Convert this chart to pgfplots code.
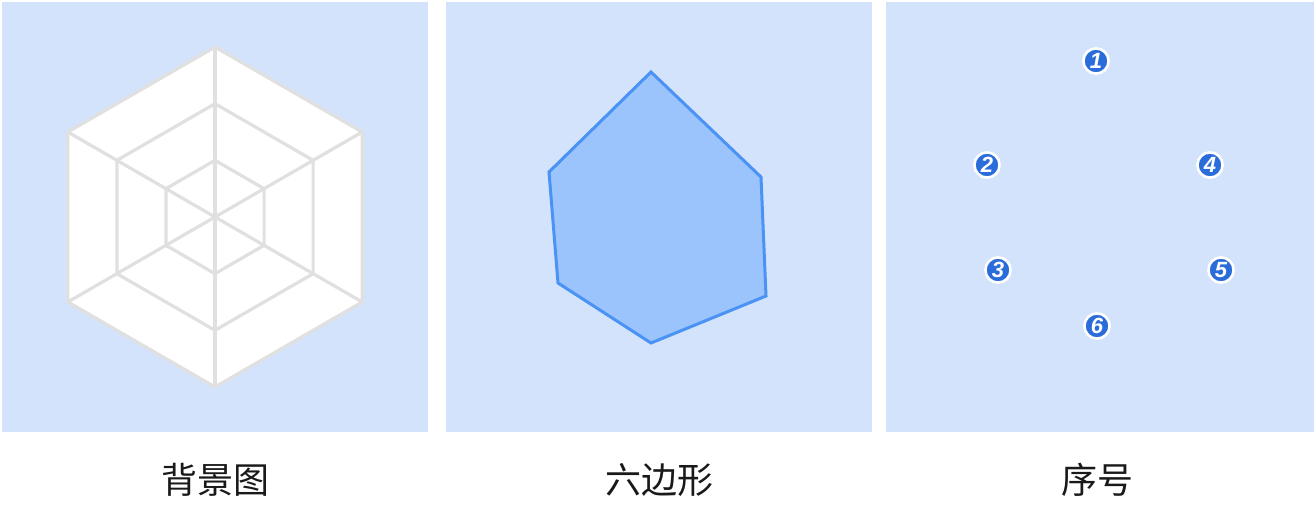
\documentclass[border=0pt]{standalone}
\usepackage{pgfplots}
\pgfplotsset{compat=1.18}
\usepackage{fontspec}
\newfontfamily\cjk{Noto Sans CJK SC}
\newfontfamily\numfont{Liberation Sans}
\definecolor{panelbg}{HTML}{D4E3FC}
\definecolor{gridgray}{HTML}{E0E0E0}
\definecolor{polyfill}{HTML}{9CC4FC}
\definecolor{polyline}{HTML}{4A93F5}
\definecolor{numblue}{HTML}{2A6DDA}
\begin{document}
\begin{tikzpicture}
\begin{axis}[
  x=0.5pt, y=0.5pt, y dir=reverse,
  xmin=0, xmax=1316, ymin=0, ymax=515,
  hide axis, clip=false, scale only axis,
]
% white page
\addplot[fill=white, draw=none] coordinates {(0,0) (1316,0) (1316,515) (0,515)} -- cycle;
% panels
\addplot[fill=panelbg, draw=none] coordinates {(2,2) (428,2) (428,432) (2,432)} -- cycle;
\addplot[fill=panelbg, draw=none] coordinates {(446,2) (872,2) (872,432) (446,432)} -- cycle;
\addplot[fill=panelbg, draw=none] coordinates {(886,2) (1314,2) (1314,432) (886,432)} -- cycle;
% panel 1: radar background
\addplot[fill=white, draw=gridgray, line width=1.6pt, line join=round] coordinates {
 (215,47) (362.2,132) (362.2,302) (215,387) (67.8,302) (67.8,132)} -- cycle;
\addplot[draw=gridgray, line width=1.6pt, line join=round] coordinates {
 (215,103.7) (313.1,160.3) (313.1,273.7) (215,330.3) (116.9,273.7) (116.9,160.3)} -- cycle;
\addplot[draw=gridgray, line width=1.6pt, line join=round] coordinates {
 (215,160.3) (264.1,188.7) (264.1,245.3) (215,273.7) (165.9,245.3) (165.9,188.7)} -- cycle;
\addplot[draw=gridgray, line width=1.6pt] coordinates {(215,47) (215,387)};
\addplot[draw=gridgray, line width=1.6pt] coordinates {(362.2,132) (67.8,302)};
\addplot[draw=gridgray, line width=1.6pt] coordinates {(362.2,302) (67.8,132)};
% panel 2: hexagon
\addplot[fill=polyfill, draw=polyline, line width=1.5pt, line join=miter] coordinates {
 (651,72) (761,177) (766,296) (651,343) (558,283) (549,172)} -- cycle;
% panel 3: numbered markers
\addplot[only marks, mark=*, mark size=6.3pt,
  mark options={fill=numblue, draw=white, line width=1.3pt},
  nodes near coords, point meta=explicit symbolic,
  every node near coord/.append style={anchor=center, text=white,
    font=\numfont\bfseries\itshape\fontsize{11}{12}\selectfont, inner sep=0pt}]
 table[meta=lab] {
 x y lab
 1096 61 1
 987 165 2
 998 270 3
 1210 165 4
 1221 270 5
 1097 326 6
};
% labels
\node[font=\cjk\fontsize{18}{20}\selectfont, text=black!90] at (axis cs:215,480) {背景图};
\node[font=\cjk\fontsize{18}{20}\selectfont, text=black!90] at (axis cs:659,480) {六边形};
\node[font=\cjk\fontsize{18}{20}\selectfont, text=black!90] at (axis cs:1097,480) {序号};
\end{axis}
\end{tikzpicture}
\end{document}
